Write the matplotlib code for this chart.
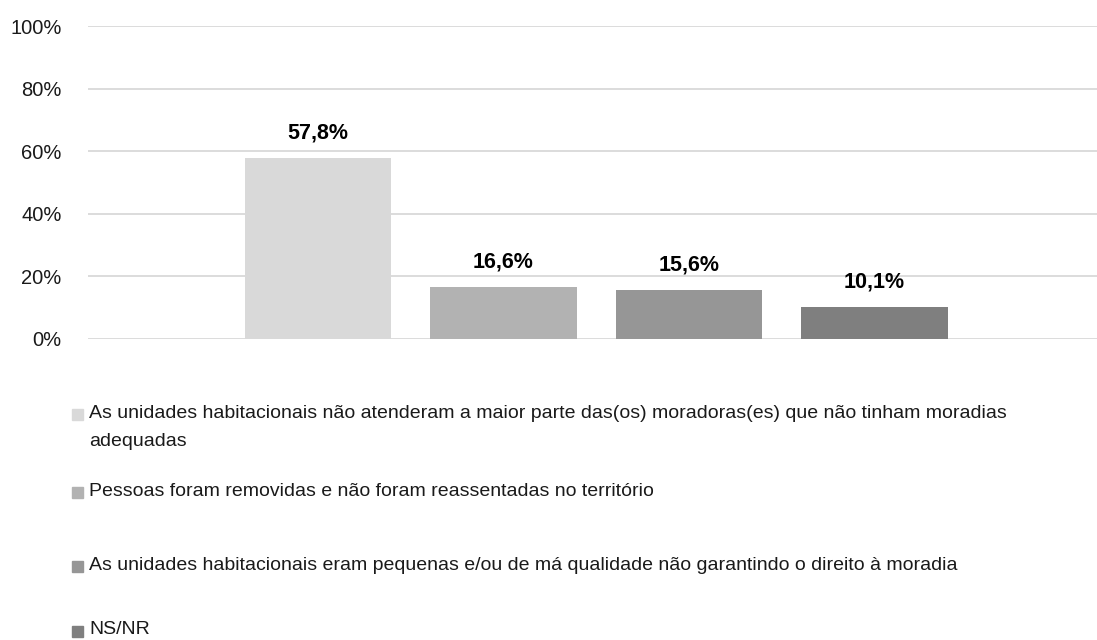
import matplotlib.pyplot as plt
from matplotlib.patches import Rectangle

plt.rcParams['font.family'] = ['Liberation Sans', 'DejaVu Sans']

labels = ['As unidades habitacionais não atenderam a maior parte das(os) moradoras(es) que não tinham moradias\nadequadas',
          'Pessoas foram removidas e não foram reassentadas no território',
          'As unidades habitacionais eram pequenas e/ou de má qualidade não garantindo o direito à moradia',
          'NS/NR']
values = [57.8, 16.6, 15.6, 10.1]
colors = ['#D9D9D9', '#B2B2B2', '#969696', '#7F7F7F']
yticks = [0, 20, 40, 60, 80, 100]

fig = plt.figure(figsize=(10.97, 6.4), dpi=100)
ax = fig.add_axes([88 / 1097, 1 - 339 / 640, 1009 / 1097, 313 / 640])

x = range(len(values))
ax.bar(x, values, width=0.79, color=colors, zorder=2)
for i, v in enumerate(values):
    ax.text(i, v + 4.8, ('%.1f%%' % v).replace('.', ','), ha='center', va='bottom',
            fontsize=15.5, fontweight='bold', color='#000000')

ax.set_xlim(-1.24, 4.2)
ax.set_ylim(0, 100)
ax.set_yticks(yticks)
ax.set_yticklabels(['%d%%' % t for t in yticks], fontsize=14.5, color='#1a1a1a')
ax.yaxis.grid(True, color='#D9D9D9', linewidth=1.3, zorder=0)
ax.tick_params(axis='y', length=0, pad=19)
ax.set_xticks([])
for s in ax.spines.values():
    s.set_visible(False)

# legend drawn by hand, one entry per row (pixel rows of each entry)
ys = [413, 491, 565, 630]
for lab, col, yy in zip(labels, colors, ys):
    fig.patches.append(Rectangle((72 / 1097, 1 - (yy + 7) / 640), 11 / 1097, 11 / 640,
                                 transform=fig.transFigure, color=col))
    for k, line in enumerate(lab.split('\n')):
        fig.text(89 / 1097, 1 - (yy + 28 * k) / 640, line, fontsize=14, color='#1a1a1a',
                 va='center', transform=fig.transFigure)

fig.savefig('out.png', dpi=100)
